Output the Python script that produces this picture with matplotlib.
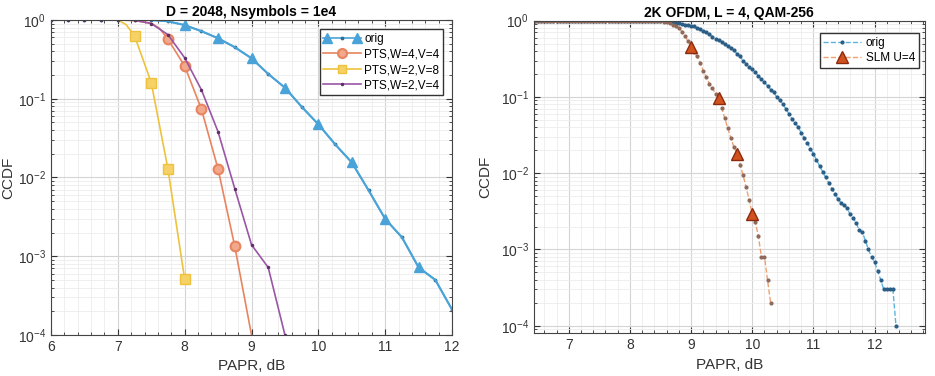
import numpy as np
import matplotlib
matplotlib.use('Agg')
import matplotlib.pyplot as plt
from matplotlib.lines import Line2D
from matplotlib.legend_handler import HandlerLine2D, HandlerTuple
from matplotlib.ticker import MultipleLocator, LogLocator, NullFormatter

plt.rcParams['font.family'] = 'Liberation Sans'
plt.rcParams['mathtext.fontset'] = 'custom'
plt.rcParams['mathtext.rm'] = 'Liberation Sans'
plt.rcParams['mathtext.it'] = 'Liberation Sans:italic'

##########################################
# left chart : PTS

pts_x = [6.0, 6.25, 6.5, 6.75, 7.0, 7.25, 7.5, 7.75, 8.0, 8.25, 8.5, 8.75,
         9.0, 9.25, 9.5, 9.75, 10.0, 10.25, 10.5, 10.75, 11.0, 11.25, 11.5, 11.75, 12.0]
orig_left = [1.0, 1.0, 1.0, 1.0, 1.0, 1.0, 0.998, 0.96, 0.86, 0.72, 0.585, 0.45,
             0.326, 0.206, 0.138, 0.079, 0.0473, 0.0264, 0.0155, 0.0069, 0.00297,
             0.00174, 0.00072, 0.0005, 0.00021]
orig_left_tri = [8, 10, 12, 14, 16, 18, 20, 22]

w4v4_x = [6.0, 6.25, 6.5, 6.75, 7.0, 7.25, 7.5, 7.625, 7.75, 8.0, 8.25, 8.5, 8.75, 9.0]
w4v4_y = [1.0, 1.0, 1.0, 1.0, 1.0, 0.98, 0.91, 0.78, 0.568, 0.26, 0.074, 0.0128, 0.00133, 0.0001]
w4v4_mk = [8, 9, 10, 11, 12]

w2v8_x = [6.0, 6.25, 6.5, 6.75, 7.0, 7.125, 7.25, 7.5, 7.75, 8.0]
w2v8_y = [1.0, 1.0, 1.0, 1.0, 1.0, 0.87, 0.63, 0.16, 0.0128, 0.00051]
w2v8_mk = [6, 7, 8, 9]

w2v4_x = [6.0, 6.25, 6.5, 6.75, 7.0, 7.25, 7.5, 7.75, 8.0, 8.25, 8.5, 8.75, 9.0, 9.25, 9.5]
w2v4_y = [1.0, 1.0, 1.0, 1.0, 1.0, 0.99, 0.9, 0.65, 0.33, 0.13, 0.038, 0.0072, 0.0014, 0.00072, 0.0001]

##########################################
# right chart : SLM

slm_x = [6.45, 6.5, 6.55, 6.6, 6.65, 6.7, 6.75, 6.8, 6.85, 6.9, 6.95, 7.0, 7.05, 7.1, 7.15,
         7.2, 7.25, 7.3, 7.35, 7.4, 7.45, 7.5, 7.55, 7.6, 7.65, 7.7, 7.75, 7.8, 7.85, 7.9,
         7.95, 8.0, 8.05, 8.1, 8.15, 8.2, 8.25, 8.3, 8.35, 8.4, 8.45, 8.5, 8.55, 8.6, 8.65,
         8.7, 8.75, 8.8, 8.85, 8.9, 8.95, 9.0, 9.05, 9.1, 9.15, 9.2, 9.25, 9.3, 9.35, 9.4,
         9.45, 9.5, 9.55, 9.6, 9.65, 9.7, 9.75, 9.8, 9.85, 9.9, 9.95, 10.0, 10.05, 10.1,
         10.15, 10.2, 10.25, 10.3, 10.35, 10.4, 10.45, 10.5, 10.55, 10.6, 10.65, 10.7,
         10.75, 10.8, 10.85, 10.9, 10.95, 11.0, 11.05, 11.1, 11.15, 11.2, 11.25, 11.3,
         11.35, 11.4, 11.45, 11.5, 11.55, 11.6, 11.65, 11.7, 11.75, 11.8, 11.85, 11.9,
         11.95, 12.0, 12.05, 12.1, 12.15, 12.2, 12.25, 12.3, 12.35]

orig_right = [1.0, 1.0, 1.0, 1.0, 1.0, 1.0, 1.0, 1.0, 1.0, 1.0, 1.0, 1.0, 1.0, 1.0, 1.0,
              1.0, 1.0, 1.0, 1.0, 1.0, 1.0, 1.0, 1.0, 1.0, 1.0, 1.0, 1.0, 1.0, 1.0, 1.0,
              1.0, 1.0, 1.0, 1.0, 1.0, 1.0, 1.0, 1.0, 1.0, 1.0, 1.0, 0.995, 0.99, 0.98, 0.97,
              0.955, 0.94, 0.925, 0.91, 0.89, 0.875, 0.86, 0.84, 0.81, 0.78, 0.74, 0.70, 0.66,
              0.62, 0.58, 0.55, 0.52, 0.49, 0.46, 0.44, 0.41, 0.37, 0.34, 0.30, 0.27, 0.25,
              0.23, 0.21, 0.19, 0.17, 0.155, 0.14, 0.125, 0.115, 0.10, 0.09, 0.08, 0.07, 0.06,
              0.052, 0.046, 0.04, 0.034, 0.029, 0.025, 0.021, 0.018, 0.015, 0.0125, 0.0105,
              0.0088, 0.0075, 0.0063, 0.0054, 0.0046, 0.0041, 0.0038, 0.0035, 0.0029, 0.0026,
              0.0022, 0.0018, 0.0017, 0.0013, 0.001, 0.0008, 0.00068, 0.00053, 0.0004, 0.0003,
              0.0003, 0.0003, 0.0003, 0.0001]

slm_y = [1.0, 1.0, 1.0, 1.0, 1.0, 1.0, 1.0, 1.0, 1.0, 1.0, 1.0, 1.0, 1.0, 1.0, 1.0,
         1.0, 1.0, 1.0, 1.0, 1.0, 1.0, 1.0, 1.0, 1.0, 1.0, 1.0, 1.0, 1.0, 1.0, 1.0,
         1.0, 1.0, 1.0, 1.0, 1.0, 1.0, 1.0, 1.0, 1.0, 1.0, 1.0, 0.99, 0.975, 0.95, 0.92,
         0.89, 0.86, 0.8, 0.72, 0.63, 0.54, 0.45, 0.39, 0.34, 0.28, 0.22, 0.18, 0.15,
         0.13, 0.11, 0.097, 0.072, 0.053, 0.039, 0.029, 0.022, 0.018, 0.0129, 0.0095,
         0.0065, 0.0045, 0.0029, 0.0023, 0.0015, 0.0008, 0.0008, 0.0004, 0.0002]
slm_tri = [51, 60, 66, 71]

##########################################

blue_l = '#4aa3d8'
orange_l = '#e8845f'
yellow_l = '#eec23c'
purple_l = '#9a56a6'

fig = plt.figure(figsize=(9.35, 3.76), dpi=100)

ax_left = fig.add_axes([0.0545, 0.109, 0.429, 0.838])
ax_left.set_yscale('log')

ax_left.plot(pts_x, orig_left, '-', color=blue_l, lw=1.2, marker='.', ms=3.5, mfc='#2d6f9c', mec='#2d6f9c')
ax_left.plot(pts_x, orig_left, 'none', marker='^', ms=7, color=blue_l, markevery=orig_left_tri)
ax_left.plot(w4v4_x, w4v4_y, '-', color=orange_l, lw=1.2, marker='o', ms=7, mfc='#f2a88a', mec=orange_l, mew=1.5, markevery=w4v4_mk)
ax_left.plot(w2v8_x, w2v8_y, '-', color=yellow_l, lw=1.2, marker='s', ms=6.5, mfc='#f6d266', mec=yellow_l, markevery=w2v8_mk)
ax_left.plot(w2v4_x, w2v4_y, '-', color=purple_l, lw=1.2, marker='.', ms=3, mfc='#5e2f6a', mec='#5e2f6a')

ax_left.set_xlim([6, 12])
ax_left.set_ylim([1e-4, 1])
ax_left.xaxis.set_minor_locator(MultipleLocator(0.2))
ax_left.yaxis.set_major_locator(LogLocator(base=10, numticks=10))
ax_left.yaxis.set_minor_locator(LogLocator(base=10, subs=np.arange(2, 10), numticks=10))
ax_left.yaxis.set_minor_formatter(NullFormatter())
ax_left.grid(which='major', color='#d4d4d4', lw=0.8)
ax_left.grid(which='minor', color='#ececec', lw=0.6)
ax_left.set_axisbelow(True)
ax_left.set_title('D = 2048, Nsymbols = 1e4', fontsize=10, fontweight='bold', pad=3)
ax_left.set_xlabel('PAPR, dB', fontsize=11, color='#333333')
ax_left.set_ylabel('CCDF', fontsize=11, color='#333333', labelpad=2)

tri_proxy = Line2D([], [], ls='none', marker='^', ms=6.5, color=blue_l)
orig_proxy = Line2D([], [], ls='-', lw=1.2, color=blue_l, marker='.', ms=3.5, mfc='#2d6f9c', mec='#2d6f9c')
h_w4v4 = Line2D([], [], ls='-', lw=1.2, color=orange_l, marker='o', ms=6.5, mfc='#f2a88a', mec=orange_l, mew=1.5)
h_w2v8 = Line2D([], [], ls='-', lw=1.2, color=yellow_l, marker='s', ms=6, mfc='#f6d266', mec=yellow_l)
h_w2v4 = Line2D([], [], ls='-', lw=1.2, color=purple_l, marker='.', ms=3, mfc='#5e2f6a', mec='#5e2f6a')
ax_left.legend([(orig_proxy, tri_proxy), h_w4v4, h_w2v8, h_w2v4],
               ['orig', 'PTS,W=4,V=4', 'PTS,W=2,V=8', 'PTS,W=2,V=4'],
               handler_map={tri_proxy: HandlerLine2D(numpoints=2), tuple: HandlerTuple(ndivide=1)},
               loc='upper right', bbox_to_anchor=(0.978, 0.97), fontsize=8.5, fancybox=False,
               edgecolor='#333333', framealpha=1, handlelength=3.2, handletextpad=0.3,
               borderpad=0.3, labelspacing=0.3, borderaxespad=0)

##########################################

blue_r = '#5ab4e0'
blue_dot = '#2a5d86'
orange_r = '#f0a070'
orange_dot = '#8f6a5a'

ax_right = fig.add_axes([0.571, 0.114, 0.418, 0.831])
ax_right.set_yscale('log')

ax_right.plot(slm_x, orig_right, '--', color=blue_r, lw=1.0, marker='.', ms=4, mfc=blue_dot, mec=blue_dot)
ax_right.plot(slm_x[:len(slm_y)], slm_y, '--', color=orange_r, lw=1.0, marker='.', ms=4, mfc=orange_dot, mec=orange_dot)
ax_right.plot(slm_x[:len(slm_y)], slm_y, 'none', marker='^', ms=9, mfc='#d2521f', mec='#8b2a0e', mew=1.0, markevery=slm_tri)

ax_right.set_xlim([6.43, 12.82])
ax_right.set_ylim([8e-5, 1])
ax_right.xaxis.set_major_locator(MultipleLocator(1))
ax_right.xaxis.set_minor_locator(MultipleLocator(0.2))
ax_right.yaxis.set_major_locator(LogLocator(base=10, numticks=10))
ax_right.yaxis.set_minor_locator(LogLocator(base=10, subs=np.arange(2, 10), numticks=10))
ax_right.yaxis.set_minor_formatter(NullFormatter())
ax_right.grid(which='major', color='#d4d4d4', lw=0.8)
ax_right.grid(which='minor', color='#ececec', lw=0.6)
ax_right.set_axisbelow(True)
ax_right.set_title('2K OFDM, L = 4, QAM-256', fontsize=10, fontweight='bold', pad=3)
ax_right.set_xlabel('PAPR, dB', fontsize=11, color='#333333')
ax_right.set_ylabel('CCDF', fontsize=11, color='#333333', labelpad=6)

h_orig_r = Line2D([], [], ls='--', lw=1.0, color=blue_r, marker='.', ms=4, mfc=blue_dot, mec=blue_dot)
h_slm = Line2D([], [], ls='--', lw=1.0, color=orange_r, marker='^', ms=8.5, mfc='#d2521f', mec='#8b2a0e')
ax_right.legend([h_orig_r, h_slm], ['orig', 'SLM U=4'], loc='upper right',
                bbox_to_anchor=(0.985, 0.96), fontsize=8.5, fancybox=False,
                edgecolor='#333333', framealpha=1, handlelength=3.2, handletextpad=0.4,
                borderpad=0.3, labelspacing=0.3, borderaxespad=0)

for ax in [ax_left, ax_right]:
    ax.tick_params(which='both', direction='in', top=True, right=True, labelsize=10, colors='#333333')
    ax.tick_params(which='major', length=4)
    ax.tick_params(which='minor', length=2)
    for sp in ax.spines.values():
        sp.set_color('#444444')
        sp.set_linewidth(0.8)

plt.savefig('out.png', dpi=100)
plt.close('all')
